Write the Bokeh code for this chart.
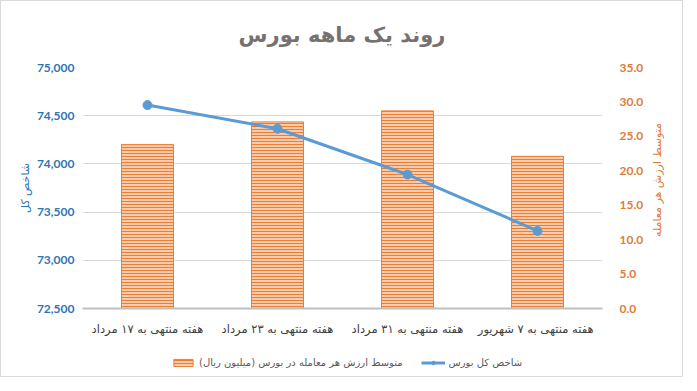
import math
from bokeh.plotting import figure
from bokeh.layouts import column, row
from bokeh.models import (Range1d, LinearAxis, FactorRange, FixedTicker, NumeralTickFormatter,
                          Legend, LegendItem, ColumnDataSource, Label)
from bokeh.embed import file_html
from bokeh.resources import INLINE

categories = ["هفته منتهی به ۱۷ مرداد", "هفته منتهی به ۲۳ مرداد",
              "هفته منتهی به ۳۱ مرداد", "هفته منتهی به ۷  شهریور"]
index_values = [74610, 74365, 73890, 73305]
avg_trade_value = [23.8, 27.1, 28.7, 22.1]
left_ticks = [72500, 73000, 73500, 74000, 74500, 75000]
right_ticks = [0, 5, 10, 15, 20, 25, 30, 35]

title_text = "روند یک ماهه بورس"
left_label = "شاخص کل"
right_label = "متوسط ارزش هر معامله"
bar_legend = "متوسط ارزش هر معامله در بورس (میلیون ریال)"
line_legend = "شاخص کل بورس"

BAR_STYLE = dict(fill_color="#F8CBAD", line_color="#ED7D31", line_width=1,
                 hatch_pattern="horizontal_line", hatch_color="#ED7D31",
                 hatch_weight=1, hatch_scale=3)
LINE_COLOR = "#5B9BD5"
W = 681
PW = 645       # width of the main plot
PH = 302       # height of the main plot
RW = W - PW    # strip holding the right axis title


def strip(w, h, **kw):
    f = figure(width=w, height=h, output_backend="svg", toolbar_location=None,
               x_axis_type=None, y_axis_type=None, min_border=0, **kw)
    f.outline_line_color = None
    f.xgrid.grid_line_color = None
    f.ygrid.grid_line_color = None
    return f


# title strip
TH = 48
t = strip(W, TH, x_range=Range1d(0, W), y_range=Range1d(0, TH))
t.add_layout(Label(x=W / 2, y=15, text=title_text, text_align="center",
                   text_baseline="middle", text_font="DejaVu Sans", text_font_size="21px",
                   text_font_style="bold", text_color="#767171"))

src = ColumnDataSource(dict(cat=categories, idx=index_values, avg=avg_trade_value))

p = figure(width=PW, height=PH, x_range=FactorRange(*categories),
           y_range=Range1d(72500, 75000), output_backend="svg", toolbar_location=None,
           min_border_left=81, min_border_right=PW - 610, min_border_top=18, min_border_bottom=43)
p.outline_line_color = None
p.background_fill_color = "white"

p.extra_y_ranges = {"avg": Range1d(0, 35)}

bars = p.vbar(x="cat", top="avg", width=0.4, bottom=0, y_range_name="avg", source=src, **BAR_STYLE)
line = p.line(x="cat", y="idx", source=src, line_color=LINE_COLOR, line_width=3)
pts = p.scatter(x="cat", y="idx", source=src, size=9, fill_color=LINE_COLOR, line_color=LINE_COLOR)

# left axis
ya = p.yaxis[0]
ya.ticker = FixedTicker(ticks=left_ticks)
ya.formatter = NumeralTickFormatter(format="0,0")
ya.axis_line_color = None
ya.major_tick_line_color = None
ya.minor_tick_line_color = None
ya.major_label_text_color = "#2E75B6"
ya.major_label_text_font = "Lato"
ya.major_label_text_font_style = "bold"
ya.major_label_text_font_size = "12px"
ya.major_label_standoff = 2
ya.axis_label = left_label
ya.axis_label_text_font = "DejaVu Sans"
ya.axis_label_text_font_style = "normal"
ya.axis_label_text_font_size = "11px"
ya.axis_label_text_color = "#2E75B6"
ya.axis_label_standoff = 2

ra = LinearAxis(y_range_name="avg", ticker=FixedTicker(ticks=right_ticks),
                formatter=NumeralTickFormatter(format="0.0"))
ra.axis_line_color = None
ra.major_tick_line_color = None
ra.minor_tick_line_color = None
ra.major_label_text_color = "#E07B39"
ra.major_label_text_font = "Lato"
ra.major_label_text_font_style = "bold"
ra.major_label_text_font_size = "12px"
ra.major_label_standoff = 11
p.add_layout(ra, "right")

xa = p.xaxis[0]
xa.axis_line_color = "#bfbfbf"
xa.axis_line_width = 2
xa.major_tick_line_color = None
xa.minor_tick_line_color = None
xa.major_label_text_font = "DejaVu Sans"
xa.major_label_text_font_size = "11.5px"
xa.major_label_text_font_style = "normal"
xa.major_label_text_color = "#404040"
xa.major_label_standoff = 7

p.xgrid.grid_line_color = None
p.ygrid.grid_line_color = "#d9d9d9"
p.ygrid.grid_line_width = 1
p.ygrid.ticker = FixedTicker(ticks=left_ticks)

# right axis title, rotated like the left one
r = strip(RW, PH, x_range=Range1d(0, RW), y_range=Range1d(0, PH))
r.add_layout(Label(x=11, y=PH - 141, text=right_label, angle=math.pi / 2,
                   text_align="center", text_baseline="middle", text_font="DejaVu Sans",
                   text_font_size="11px", text_color="#E07B39"))

# legend strip below the chart (its legend glyphs are never mapped into view)
q = strip(W, 25, x_range=FactorRange("legend"), y_range=Range1d(0, 1))
lb = q.vbar(x="cat", top="avg", width=0.4, source=src, **BAR_STYLE)
ll = q.line(x="cat", y="idx", source=src, line_color=LINE_COLOR, line_width=3)
lp = q.scatter(x="cat", y="idx", source=src, size=7, fill_color=LINE_COLOR, line_color=LINE_COLOR)

legend = Legend(items=[LegendItem(label=bar_legend, renderers=[lb]),
                       LegendItem(label=line_legend, renderers=[ll, lp])],
                orientation="horizontal", location=(170, 8),
                border_line_color=None, background_fill_alpha=0,
                label_text_font="DejaVu Sans", label_text_font_size="10px",
                label_text_color="#595959", glyph_width=24, glyph_height=9,
                label_standoff=4, spacing=18, padding=0, margin=0, label_height=12)
q.add_layout(legend, "center")

layout = column(t, row(p, r, spacing=0), q, spacing=0,
                styles={"border": "1px solid #d9d9d9"})

open("out.html", "w").write(file_html(layout, INLINE))
